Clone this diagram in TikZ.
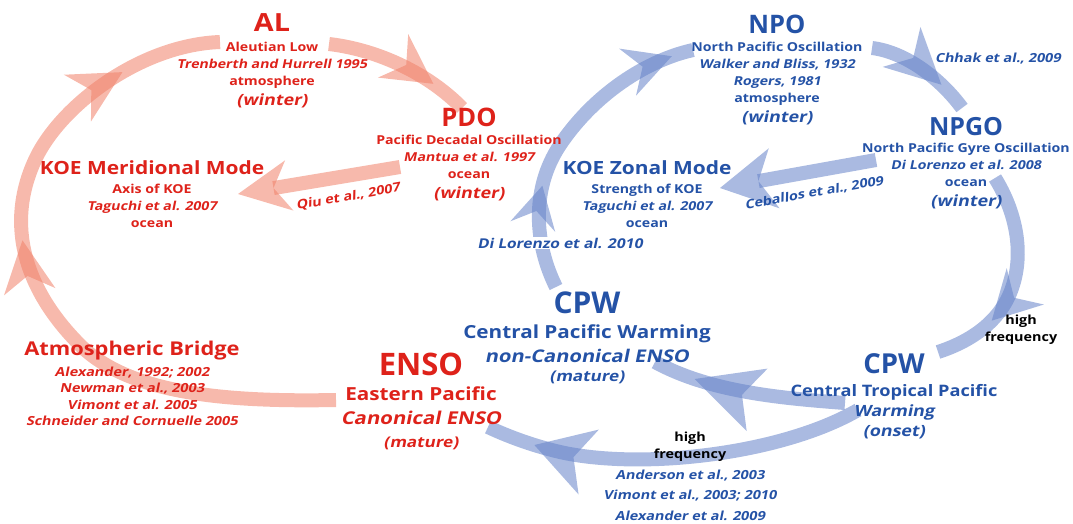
\documentclass[tikz,border=0pt]{standalone}
\usepackage{fontspec}
\setmainfont{Open Sans}[FakeStretch=1.15,BoldItalicFont={Open Sans Bold},BoldItalicFeatures={FakeSlant=0.2,FakeStretch=1.15}]
\newfontfamily\hdfont{Open Sans}
\usetikzlibrary{arrows.meta,decorations.markings,backgrounds}
\definecolor{ired}{RGB}{222,34,26}
\definecolor{iblue}{RGB}{36,82,166}
\definecolor{bred}{RGB}{240,128,104}
\definecolor{bblue}{RGB}{100,130,200}
\newcommand\fs[2]{\fontsize{#1}{#2}\selectfont}
\newcommand\hd[2]{{\hdfont\fs{#1}{#1}#2}}
\tikzset{
  blk/.style={anchor=north,align=center,inner sep=0pt,font=\bfseries\fs{12.3}{17}},
  redblk/.style={blk,text=ired},
  blublk/.style={blk,text=iblue},
  cite/.style={inner sep=1pt,font=\bfseries\itshape\fs{12.5}{14}},
  band/.style={line width=14pt,opacity=.55},
  redband/.style={band,draw=bred},
  bluband/.style={band,draw=bblue},
  head/.style n args={3}{postaction={decorate,decoration={markings,mark=at position #1 with {\arrow{Stealth[length=#2,width=#3,inset=16pt,line width=0pt]}}}}},
  tip/.style 2 args={-{Stealth[length=#1,width=#2,inset=16pt,line width=0pt]}}
}
\begin{document}
\begin{tikzpicture}[x=1pt,y=-1pt]
\useasboundingbox (0,0) rectangle (1073,523);
\node[redblk] (al) at (272,13) {{\fs{25}{25}AL}\\[3pt]Aleutian Low\\\textit{Trenberth and Hurrell 1995}\\atmosphere\\[3pt]{\fs{15.5}{17}\textit{(winter)}}};
\node[redblk] (pdo) at (469,108) {\hd{25.5}{PDO}\\[1pt]Pacific Decadal Oscillation\\\textit{Mantua et al. 1997}\\ocean\\[3pt]{\fs{15.5}{17}\textit{(winter)}}};
\node[redblk] (koem) at (152,160) {{\fs{18.2}{18}KOE Meridional Mode}\\[2pt]Axis of KOE\\\textit{Taguchi et al. 2007}\\ocean};
\node[redblk,font=\bfseries\fs{12.5}{16.5}] (bridge) at (132,341) {{\fs{19}{18}Atmospheric Bridge}\\[4pt]\textit{Alexander, 1992; 2002}\\\textit{Newman et al., 2003}\\\textit{Vimont et al. 2005}\\\textit{Schneider and Cornuelle 2005}};
\node[redblk,font=\bfseries\fs{18}{24}] (enso) at (421,353) {\hd{31}{ENSO}\\[1pt]Eastern Pacific\\{\fs{17.7}{24}\textit{Canonical ENSO}}\\[-1pt]{\fs{14.8}{17}\textit{(mature)}}};
\node[cite,text=ired,rotate=10] (qiu) at (348,197) {Qiu et al., 2007};
\node[blublk] (npo) at (777,15) {\hd{25.5}{NPO}\\[1pt]North Pacific Oscillation\\\textit{Walker and Bliss, 1932}\\\textit{Rogers, 1981}\\atmosphere\\[3pt]{\fs{15.5}{17}\textit{(winter)}}};
\node[blublk] (npgo) at (966,117) {\hd{25}{NPGO}\\North Pacific Gyre Oscillation\\\textit{Di Lorenzo et al. 2008}\\ocean\\[3pt]{\fs{15.5}{17}\textit{(winter)}}};
\node[blublk] (koez) at (647,160) {{\fs{18.2}{18}KOE Zonal Mode}\\[2pt]Strength of KOE\\\textit{Taguchi et al. 2007}\\ocean};
\node[blublk,font=\bfseries\fs{18}{24.5}] (cpwm) at (587,292) {\hd{30}{CPW}\\Central Pacific Warming\\{\fs{17.5}{24.5}\textit{non-Canonical ENSO}}\\[-6pt]{\fs{14.8}{17}\textit{(mature)}}};
\node[blublk,font=\bfseries\fs{15.8}{19.5}] (cpwo) at (894,353) {\hd{27.5}{CPW}\\[4pt]Central Tropical Pacific\\{\fs{15.5}{19.5}\textit{Warming}}\\[1pt]{\fs{15.5}{19.5}\textit{(onset)}}};
\node[cite,text=iblue,rotate=10] (ceb) at (814,193) {Ceballos et al., 2009};
\node[cite,text=iblue] (chhak) at (998,59) {Chhak et al., 2009};
\node[cite,text=iblue,fill=white,font=\bfseries\itshape\fs{13.5}{14}] (dlz) at (560,243) {Di Lorenzo et al. 2010};
\node[blk,font=\bfseries\fs{12.5}{17}] (hf) at (1021,315) {high\\frequency};
\node[blk,font=\bfseries\fs{12.5}{20.5}] (hfb) at (690,432) {high\\[-3.5pt]frequency\\{\color{iblue}\itshape Anderson et al., 2003}\\{\color{iblue}\itshape Vimont et al., 2003; 2010}\\{\color{iblue}\itshape Alexander et al. 2009}};
\begin{scope}[on background layer]
\draw[redband,head={.556}{52pt}{52pt},head={.853}{52pt}{54pt}] ([xshift=-85pt,yshift=-47pt]enso.north)
  .. controls (230,402) and (130,395) .. (80,345)
  .. controls (25,290) and (5,225) .. (35,160)
  .. controls (60,106) and (140,45) .. ([xshift=-52pt,yshift=-29pt]al.north);
\draw[redband,head={.75}{49pt}{53pt}] ([xshift=57pt,yshift=-31pt]al.north) .. controls (380,50) and (430,75) .. ([xshift=-7pt]pdo.north);
\draw[redband,tip={52pt}{51pt}] ([xshift=-69pt,yshift=-59pt]pdo.north) -- ([xshift=86pt,yshift=-34pt]koem.north);
\draw[bluband,head={.33}{42pt}{46pt},head={.93}{47pt}{50pt}] ([xshift=-31pt,yshift=5pt]cpwm.north)
  .. controls (535,245) and (530,190) .. (560,145)
  .. controls (590,100) and (640,62) .. ([xshift=-84pt,yshift=-35pt]npo.north);
\draw[bluband,head={.72}{55pt}{55pt}] ([xshift=95pt,yshift=-33pt]npo.north) .. controls (905,52) and (940,78) .. ([xshift=-4pt,yshift=9pt]npgo.north);
\draw[bluband,head={.71}{48pt}{52pt}] ([xshift=29pt,yshift=-61pt]npgo.north)
  .. controls (1015,210) and (1024,250) .. (1013,285)
  .. controls (1003,318) and (975,340) .. ([xshift=44pt,yshift=1pt]cpwo.north);
\draw[bluband,head={.78}{66pt}{66pt}] ([xshift=-49pt,yshift=-50pt]cpwo.north) .. controls (780,398) and (710,392) .. ([xshift=68pt,yshift=-70pt]cpwm.north);
\draw[bluband,head={.87}{57pt}{68pt}] ([xshift=-36pt,yshift=-57pt]cpwo.north)
  .. controls (780,455) and (640,470) .. (560,452)
  .. controls (530,445) and (505,435) .. ([xshift=67pt,yshift=-74pt]enso.north);
\draw[bluband,tip={55pt}{61pt}] ([xshift=-90pt,yshift=-43pt]npgo.north) -- ([xshift=73pt,yshift=-28pt]koez.north);
\end{scope}
\end{tikzpicture}
\end{document}
